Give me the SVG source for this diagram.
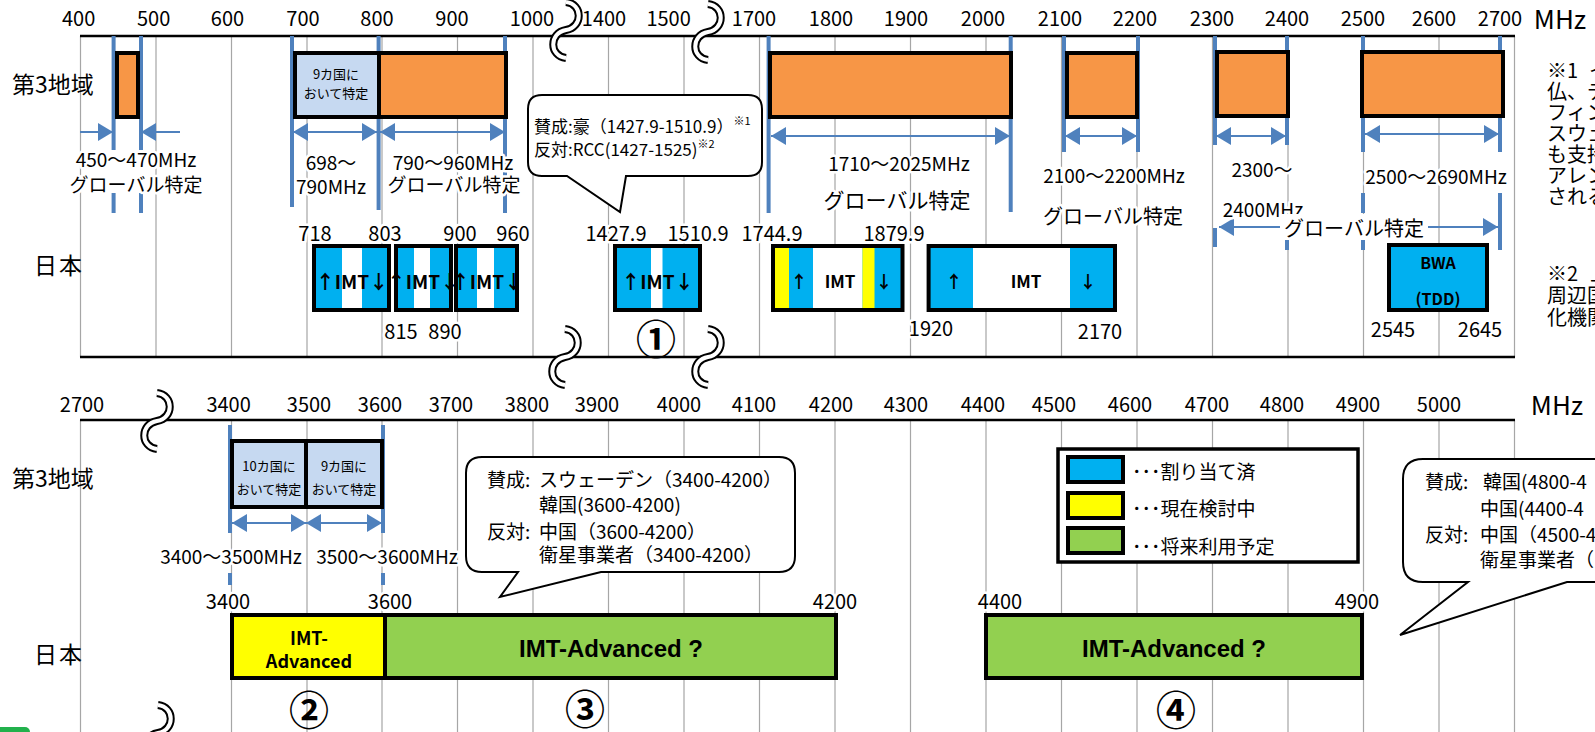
<svg xmlns="http://www.w3.org/2000/svg" width="1595" height="732" viewBox="0 0 1595 732">
<style>
text{font-family:"Noto Sans CJK JP","Noto Sans",sans-serif;fill:#000;dominant-baseline:central}
.ax{font-size:20px;text-anchor:middle}
.c{text-anchor:middle}
.h{stroke:#fff;stroke-width:5px;paint-order:stroke;stroke-linejoin:round}
.grid{stroke:#A6A6A6;stroke-width:1.2;fill:none}
.axis{stroke:#000;stroke-width:2.5}
.bl{stroke:#4F81BD;stroke-width:4;fill:none}
.arr{stroke:#4F81BD;stroke-width:1.8;marker-start:url(#ah);marker-end:url(#ah)}
.arr1{stroke:#4F81BD;stroke-width:1.8;marker-end:url(#ah)}
.box{stroke:#000;stroke-width:4}
.or{fill:#F79646}
.lb{fill:#C6D9F1}
.cy{fill:#00B0F0}
.ye{fill:#FFFF00}
.gr{fill:#92D050}
.wh{fill:#fff}
.bub{fill:#fff;stroke:#000;stroke-width:2}
.brk1{fill:none;stroke:#000;stroke-width:8}
.brk2{fill:none;stroke:#fff;stroke-width:4}
.f19{font-size:19px}
.f20{font-size:20px}
.b{font-weight:bold}
.reg{font-size:23px}
.circ{font-size:40px;font-weight:bold;text-anchor:middle}
.adv{font-family:"Liberation Sans",Arial,sans-serif;font-size:24px;font-weight:bold;text-anchor:middle}
</style>
<defs>
<marker id="ah" viewBox="0 0 10 10" refX="10" refY="5" markerWidth="15" markerHeight="18" markerUnits="userSpaceOnUse" orient="auto-start-reverse" preserveAspectRatio="none"><path d="M0,0 L10,5 L0,10 Z" fill="#4F81BD"/></marker>
<path id="brk" d="M0,-28 C17,-26 17,-3 0,0 C-17,3 -17,26 0,28"/>
</defs>
<rect width="1595" height="732" fill="#fff"/>

<g id="grid">
<path class="grid" d="M80.5 36V357M156 36V357M231.5 36V357M307 36V357M382 36V357M457.5 36V357M533 36V357M608.5 36V357M684 36V357M759.5 36V357M835 36V357M910.5 36V357M986 36V357M1061.5 36V357M1137 36V357M1212.5 36V357M1288 36V357M1363.5 36V357M1439 36V357M1514.5 36V357"/>
<path class="grid" d="M80.5 420V732M231.5 420V732M307 420V732M382 420V732M457.5 420V732M533 420V732M608.5 420V732M684 420V732M759.5 420V732M835 420V732M910.5 420V732M986 420V732M1061.5 420V732M1137 420V732M1212.5 420V732M1288 420V732M1363.5 420V732M1439 420V732M1514.5 420V732"/>
</g>
<g id="axes">
<line class="axis" x1="80" y1="36" x2="1515" y2="36"/>
<line class="axis" x1="80" y1="357" x2="1515" y2="357"/>
<line class="axis" x1="80" y1="420" x2="1515" y2="420"/>
</g>
<g id="axis-labels" class="ax">
<text x="78.6" y="17">400</text><text x="153.6" y="17">500</text><text x="227.5" y="17">600</text><text x="303" y="17">700</text><text x="377" y="17">800</text><text x="452" y="17">900</text><text x="532" y="17">1000</text><text x="604" y="17">1400</text><text x="668.6" y="17">1500</text><text x="754" y="17">1700</text><text x="831" y="17">1800</text><text x="906" y="17">1900</text><text x="983" y="17">2000</text><text x="1060" y="17">2100</text><text x="1135" y="17">2200</text><text x="1212" y="17">2300</text><text x="1287" y="17">2400</text><text x="1363" y="17">2500</text><text x="1434" y="17">2600</text><text x="1500" y="17">2700</text>
<text x="1560" y="17" style="font-size:26px">MHz</text>
<text x="82" y="403">2700</text><text x="228.6" y="403">3400</text><text x="309" y="403">3500</text><text x="380" y="403">3600</text><text x="451" y="403">3700</text><text x="527" y="403">3800</text><text x="597" y="403">3900</text><text x="679" y="403">4000</text><text x="754" y="403">4100</text><text x="831" y="403">4200</text><text x="906" y="403">4300</text><text x="983" y="403">4400</text><text x="1054" y="403">4500</text><text x="1130" y="403">4600</text><text x="1207" y="403">4700</text><text x="1282" y="403">4800</text><text x="1358" y="403">4900</text><text x="1439" y="403">5000</text>
<text x="1557" y="403" style="font-size:26px">MHz</text>
</g>
<g id="row-labels" class="reg">
<text x="12" y="83">第3地域</text>
<text x="34" y="264" letter-spacing="2">日本</text>
<text x="12" y="477">第3地域</text>
<text x="34" y="653" letter-spacing="2">日本</text>
</g>

<g id="bounds">
<path class="bl" d="M113.6 36V150M113.6 193V213M141 36V150M141 193V213M292 36V207M378.6 36V210M505 36V213M768.6 36V213M1010.7 36V212M1064 36V152M1138 36V152M1215 36V145M1215 228V247M1287 36V145M1287 240V250M1363 36V152M1363 193V213M1363 240V250M1500 36V152M1500 193V250"/>
<path class="bl" d="M230 425V533M383 425V533M230 573V585M383 573V585"/>
</g>

<g id="connectors">
<line class="arr1" x1="80" y1="132" x2="113" y2="132"/>
<line class="arr1" x1="180" y1="132" x2="141" y2="132"/>
<line class="arr" x1="293" y1="132" x2="377" y2="132"/>
<line class="arr" x1="380" y1="132" x2="505" y2="132"/>
<line class="arr" x1="771" y1="136" x2="1010" y2="136"/>
<line class="arr" x1="1065" y1="136" x2="1137" y2="136"/>
<line class="arr" x1="1216" y1="136" x2="1286" y2="136"/>
<line class="arr" x1="1365" y1="134" x2="1499" y2="134"/>
<line class="arr" x1="1219" y1="227" x2="1498" y2="227"/>
<line class="arr" x1="232" y1="523" x2="306" y2="523"/>
<line class="arr" x1="306" y1="523" x2="382" y2="523"/>
</g>

<g id="region3-top">
<rect class="box or" x="117" y="53" width="21" height="64"/>
<rect class="box lb" x="295" y="53" width="84" height="64"/>
<text class="c" x="336" y="73" style="font-size:13px">9カ国に</text>
<text class="c" x="336" y="92" style="font-size:13px">おいて特定</text>
<rect class="box or" x="379" y="53" width="127" height="64"/>
<rect class="box or" x="770" y="53" width="241" height="64"/>
<rect class="box or" x="1067" y="53" width="70" height="64"/>
<rect class="box or" x="1217" y="52" width="71" height="64"/>
<rect class="box or" x="1362" y="52" width="141" height="64"/>
</g>

<g id="top-band-labels" class="f19">
<text class="c h" x="136" y="158">450〜470MHz</text>
<text class="c h" x="136" y="183">グローバル特定</text>
<text class="c h" x="331" y="161">698〜</text>
<text class="c h" x="331" y="185">790MHz</text>
<text class="c h" x="453" y="161">790〜960MHz</text>
<text class="c h" x="454" y="183">グローバル特定</text>
<text class="c h" x="899" y="162">1710〜2025MHz</text>
<text class="c h" x="897" y="199" style="font-size:21px">グローバル特定</text>
<text class="c h" x="1114" y="174">2100〜2200MHz</text>
<text class="c h" x="1113" y="215" style="font-size:20px">グローバル特定</text>
<text class="c h" x="1262" y="168">2300〜</text>
<text class="c h" x="1263" y="208">2400MHz</text>
<rect x="1280" y="214" width="148" height="26" fill="#fff"/>
<text class="c" x="1354" y="227" style="font-size:20px">グローバル特定</text>
<text class="c h" x="1436" y="175">2500〜2690MHz</text>
</g>

<g id="bubble-1">
<path class="bub" d="M542,95 H748 Q762,95 762,109 V162 Q762,176 748,176 H626 L620,212 L567,176 H542 Q528,176 528,162 V109 Q528,95 542,95 Z"/>
<text x="534" y="125" style="font-size:17px">賛成:豪（1427.9-1510.9）<tspan style="font-size:11px" dy="-5">※1</tspan></text>
<text x="534" y="148" style="font-size:17px">反対:RCC(1427-1525)<tspan style="font-size:11px" dy="-5">※2</tspan></text>
</g>

<g id="japan-top" class="f20">
<text class="c h" x="315" y="232">718</text>
<text class="c h" x="385" y="232">803</text>
<text class="c h" x="460" y="232">900</text>
<text class="c h" x="513" y="232">960</text>
<text class="c h" x="401" y="330">815</text>
<text class="c h" x="445" y="330">890</text>
<text class="c h" x="616" y="232">1427.9</text>
<text class="c h" x="698" y="232">1510.9</text>
<text class="c h" x="772" y="232">1744.9</text>
<text class="c h" x="894" y="232">1879.9</text>
<text class="c h" x="931" y="327">1920</text>
<text class="c h" x="1100" y="330">2170</text>
<text class="c h" x="1393" y="328">2545</text>
<text class="c h" x="1480" y="328">2645</text>
</g>

<g id="imt-718">
<rect class="cy" x="314" y="246" width="75" height="64"/>
<rect class="wh" x="342" y="248" width="20" height="60"/>
<rect class="box" fill="none" x="314" y="246" width="75" height="64"/>
<text class="c b" x="352" y="280" style="font-size:19px">↑IMT↓</text>
</g>
<g id="imt-815">
<rect class="cy" x="396" y="246" width="55" height="64"/>
<rect class="wh" x="414" y="248" width="16" height="60"/>
<rect class="box" fill="none" x="396" y="246" width="55" height="64"/>
<text class="c b" x="423" y="280" style="font-size:19px">↑IMT↓</text>
</g>
<g id="imt-900">
<rect class="cy" x="456" y="246" width="61" height="64"/>
<rect class="wh" x="477" y="248" width="17" height="60"/>
<rect class="box" fill="none" x="456" y="246" width="61" height="64"/>
<text class="c b" x="487" y="280" style="font-size:19px">↑IMT↓</text>
</g>
<g id="imt-1427">
<rect class="cy" x="615" y="246" width="85" height="64"/>
<rect class="wh" x="651" y="248" width="11.5" height="60"/>
<rect class="box" fill="none" x="615" y="246" width="85" height="64"/>
<text class="c b" x="657.5" y="280" style="font-size:19px">↑IMT↓</text>
</g>
<g id="imt-1744">
<rect class="cy" x="773" y="246" width="129.5" height="64"/>
<rect class="ye" x="775" y="248" width="14" height="60"/>
<rect class="wh" x="813" y="248" width="49.5" height="60"/>
<rect class="ye" x="862.5" y="248" width="12" height="60"/>
<rect class="box" fill="none" x="773" y="246" width="129.5" height="64"/>
<text class="c b" x="799" y="280" style="font-size:17px">↑</text>
<text class="c b" x="840" y="280" style="font-size:17px">IMT</text>
<text class="c b" x="884" y="280" style="font-size:17px">↓</text>
</g>
<g id="imt-1920">
<rect class="cy" x="928.6" y="246" width="186.4" height="64"/>
<rect class="wh" x="973" y="248" width="97" height="60"/>
<rect class="box" fill="none" x="928.6" y="246" width="186.4" height="64"/>
<text class="c b" x="954" y="280" style="font-size:17px">↑</text>
<text class="c b" x="1026" y="280" style="font-size:17px">IMT</text>
<text class="c b" x="1088" y="280" style="font-size:17px">↓</text>
</g>
<g id="bwa">
<rect class="box cy" x="1389" y="245" width="98" height="65"/>
<text class="c b" x="1438" y="262" style="font-size:16px">BWA</text>
<text class="c b" x="1438" y="298" style="font-size:16px">(TDD)</text>
</g>
<text class="circ" x="656" y="337">①</text>

<g id="notes" style="font-size:20px">
<text x="1547" y="69">※1<tspan x="1589">イ</tspan></text>
<text x="1547" y="90">仏、デ</text>
<text x="1547" y="111">フィン</text>
<text x="1547" y="132">スウェ</text>
<text x="1547" y="153">も支持</text>
<text x="1547" y="174">アレン</text>
<text x="1547" y="195">される</text>
<text x="1547" y="272">※2<tspan x="1590">上</tspan></text>
<text x="1547" y="294">周辺国</text>
<text x="1547" y="316">化機関</text>
</g>

<g id="region3-bottom">
<rect class="box lb" x="232" y="441" width="74" height="66"/>
<rect class="box lb" x="306" y="441" width="76" height="66"/>
<text class="c" x="269" y="465" style="font-size:13px">10カ国に</text>
<text class="c" x="269" y="488" style="font-size:13px">おいて特定</text>
<text class="c" x="344" y="465" style="font-size:13px">9カ国に</text>
<text class="c" x="344" y="488" style="font-size:13px">おいて特定</text>
<text class="c h f19" x="231" y="555">3400〜3500MHz</text>
<text class="c h f19" x="387" y="555">3500〜3600MHz</text>
</g>

<g id="bubble-2" style="font-size:19px">
<path class="bub" d="M482,457 H779 Q795,457 795,473 V556 Q795,572 779,572 H601 L500,597 L518,572 H482 Q466,572 466,556 V473 Q466,457 482,457 Z"/>
<text x="487" y="478">賛成:</text><text x="539" y="478">スウェーデン（3400-4200）</text>
<text x="539" y="503">韓国(3600-4200)</text>
<text x="487" y="530">反対:</text><text x="539" y="530">中国（3600-4200）</text>
<text x="539" y="553">衛星事業者（3400-4200）</text>
</g>

<g id="legend" style="font-size:19px">
<rect x="1058" y="449" width="300" height="113" fill="#fff" stroke="#000" stroke-width="3.5"/>
<rect class="box cy" x="1068" y="457" width="55" height="25"/>
<rect class="box ye" x="1068" y="493" width="55" height="25"/>
<rect class="box gr" x="1068" y="528" width="55" height="25"/>
<text x="1132" y="470">･･･割り当て済</text>
<text x="1132" y="507">･･･現在検討中</text>
<text x="1132" y="545">･･･将来利用予定</text>
</g>

<g id="bubble-3" style="font-size:19px">
<path class="bub" d="M1423,459 H1620 V582 H1567 L1400,635 L1468,582 H1423 Q1403,582 1403,562 V479 Q1403,459 1423,459 Z"/>
<text x="1425" y="480">賛成:</text><text x="1483" y="480">韓国(4800-4</text>
<text x="1480" y="507">中国(4400-4</text>
<text x="1425" y="533">反対:</text><text x="1480" y="533">中国（4500-4</text>
<text x="1480" y="558">衛星事業者（</text>
</g>

<g id="japan-bottom" class="f20">
<text class="c h" x="228" y="600">3400</text>
<text class="c h" x="390" y="600">3600</text>
<text class="c h" x="835" y="600">4200</text>
<text class="c h" x="1000" y="600">4400</text>
<text class="c h" x="1357" y="600">4900</text>
</g>
<g id="imt-adv-3400">
<rect class="box ye" x="232" y="615" width="153" height="63"/>
<text class="c b" x="309" y="637" style="font-size:18px">IMT-</text>
<text class="c b" x="309" y="660" style="font-size:18px">Advanced</text>
</g>
<g id="imt-adv-3600">
<rect class="box gr" x="385" y="615" width="451" height="63"/>
<text class="adv" x="611" y="648">IMT-Advanced ?</text>
</g>
<g id="imt-adv-4400">
<rect class="box gr" x="986" y="615" width="376" height="63"/>
<text class="adv" x="1174" y="648">IMT-Advanced ?</text>
</g>
<text class="circ" x="309" y="708">②</text>
<text class="circ" x="585" y="707">③</text>
<text class="circ" x="1176" y="708">④</text>

<g id="breaks">
<use href="#brk" class="brk1" transform="translate(566,30)"/><use href="#brk" class="brk2" transform="translate(566,30)"/>
<use href="#brk" class="brk1" transform="translate(708,32)"/><use href="#brk" class="brk2" transform="translate(708,32)"/>
<use href="#brk" class="brk1" transform="translate(565,357)"/><use href="#brk" class="brk2" transform="translate(565,357)"/>
<use href="#brk" class="brk1" transform="translate(708,357)"/><use href="#brk" class="brk2" transform="translate(708,357)"/>
<use href="#brk" class="brk1" transform="translate(157,421)"/><use href="#brk" class="brk2" transform="translate(157,421)"/>
<use href="#brk" class="brk1" transform="translate(158,733)"/><use href="#brk" class="brk2" transform="translate(158,733)"/>
</g>
<rect x="-6" y="727" width="36" height="12" rx="5" fill="#22B14C"/>
</svg>
